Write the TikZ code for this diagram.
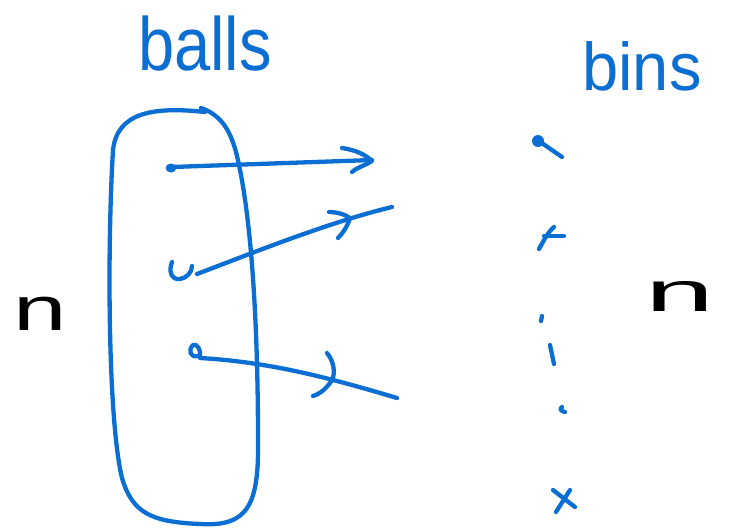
\documentclass[tikz,border=0pt]{standalone}
\usepackage{fontspec}
\setmainfont{Liberation Sans}
\definecolor{ink}{RGB}{10,110,210}
\begin{document}
\begin{tikzpicture}[x=1pt,y=-1pt,
  pen/.style={draw=ink,line width=4.3pt,line cap=round,line join=round},
  word/.style={text=ink,inner sep=0pt,font=\fontsize{52}{52}\selectfont},
  nlabel/.style={text=black,inner sep=0pt,font=\fontsize{62}{62}\selectfont}]
\useasboundingbox (0,0) rectangle (738,531);
% labels
\node[word] (balls) at (205,44) {\scalebox{1.25}[1.45]{balls}};
\node[word] (bins) at (642,66) {\scalebox{1.25}[1.3]{bins}};
\node[nlabel] (nleft) at (40,314) {\scalebox{1.55}[1.0]{n}};
\node[nlabel] (nright) at (680,296) {\scalebox{2.0}[0.9]{n}};
% enclosure of balls
\draw[pen] (205,112) .. controls (150,106) and (117,114) .. (113,150)
  .. controls (107,250) and (108,420) .. (122,478)
  .. controls (132,512) and (150,522) .. (200,524)
  .. controls (248,527) and (259,505) .. (258,440)
  .. controls (258,330) and (252,215) .. (236,152)
  .. controls (229,126) and (218,114) .. (201,108);
% balls
\coordinate (b1) at (172,167);
\coordinate (b2) at (197,274);
\coordinate (b3) at (200,358);
\fill[ink] (171,168) ellipse (5.5 and 4.5);
\draw[pen] (172,262) .. controls (168,272) and (172,280) .. (180,279)
  .. controls (187,278) and (192,272) .. (192,266);
\draw[pen] (198,356) .. controls (190,358) and (188,350) .. (193,345)
  .. controls (197,343) and (201,350) .. (200,356);
% arrows
\coordinate (e1) at (372,160);
\coordinate (e2) at (392,207);
\coordinate (e3) at (397,398);
\draw[pen] (b1) -- (e1);
\draw[pen] (342,148) .. controls (356,150) and (366,155) .. (372,161)
  .. controls (366,165) and (356,168) .. (352,172);
\draw[pen] (b2) .. controls (260,250) and (330,222) .. (e2);
\draw[pen] (329,212) .. controls (338,212) and (346,215) .. (350,218)
  .. controls (347,227) and (343,233) .. (338,238);
\draw[pen] (b3) .. controls (270,362) and (330,378) .. (e3);
\draw[pen] (327,353) .. controls (333,360) and (336,372) .. (332,380)
  .. controls (327,388) and (320,394) .. (313,396);
% bins
\fill[ink] (538,141) ellipse (6 and 6);
\draw[pen] (536,139) -- (562,157);
\draw[pen] (554,227) .. controls (548,232) and (544,240) .. (539,249);
\draw[pen] (544,236) .. controls (550,236) and (558,236) .. (564,236);
\draw[pen] (542,316) -- (541,321);
\draw[pen] (550,345) -- (554,364);
\draw[pen] (562,407) .. controls (559,409) and (561,411) .. (565,412);
\draw[pen] (553,490) -- (575,507);
\draw[pen] (570,490) -- (556,512);
\end{tikzpicture}
\end{document}
